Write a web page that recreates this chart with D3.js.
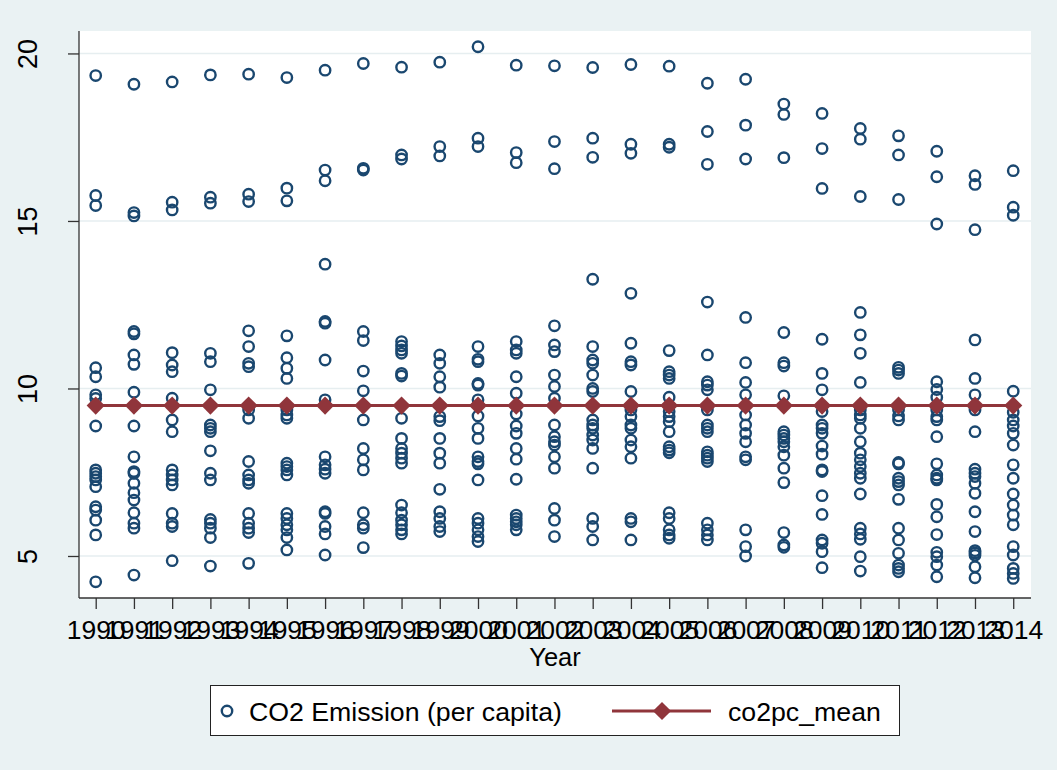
<!DOCTYPE html>
<html>
<head>
<meta charset="utf-8">
<script src="https://cdn.jsdelivr.net/npm/d3@7"></script>
<style>
  html, body { margin: 0; padding: 0; background: #EAF2F3; }
  svg { display: block; }
  text { font-family: "Liberation Sans", Arial, sans-serif; fill: #000; }
</style>
</head>
<body>
<svg id="chart" width="1057" height="770"></svg>
<script>
// CO2 emission per capita, one list per year
const co2_1990 = [19.34, 15.76, 15.46, 10.62, 10.35, 9.81, 9.70, 8.88, 7.57, 7.47, 7.37, 7.27, 7.07, 6.47, 6.37, 6.07, 5.63, 4.23];
const co2_1991 = [19.08, 15.25, 15.15, 11.70, 11.63, 11.00, 10.72, 9.89, 8.88, 7.96, 7.52, 7.47, 7.17, 6.89, 6.67, 6.29, 5.98, 5.83, 4.43];
const co2_1992 = [19.15, 15.56, 15.33, 11.07, 10.70, 10.50, 9.71, 9.06, 8.71, 7.57, 7.42, 7.27, 7.12, 6.27, 5.98, 5.88, 4.86];
const co2_1993 = [19.36, 15.71, 15.53, 11.05, 10.80, 9.96, 8.91, 8.81, 8.71, 8.14, 7.47, 7.27, 6.09, 5.98, 5.83, 5.55, 4.70];
const co2_1994 = [19.38, 15.80, 15.58, 11.72, 11.25, 10.75, 10.65, 9.36, 9.11, 7.82, 7.42, 7.27, 7.17, 6.27, 5.98, 5.83, 5.70, 4.78];
const co2_1995 = [19.28, 15.98, 15.60, 11.57, 10.92, 10.60, 10.30, 9.36, 9.21, 9.11, 7.77, 7.67, 7.57, 7.42, 6.27, 6.12, 5.93, 5.78, 5.55, 5.18];
const co2_1996 = [19.50, 16.52, 16.20, 13.71, 12.00, 11.95, 10.85, 9.66, 7.96, 7.72, 7.59, 7.47, 6.32, 6.27, 5.88, 5.66, 5.03];
const co2_1997 = [19.70, 16.57, 16.52, 11.70, 11.43, 10.52, 9.93, 9.06, 8.21, 7.87, 7.57, 6.29, 5.93, 5.83, 5.25];
const co2_1998 = [19.59, 16.97, 16.85, 11.40, 11.27, 11.15, 11.05, 10.45, 10.37, 9.11, 8.51, 8.21, 8.07, 7.92, 7.77, 6.52, 6.29, 6.07, 5.93, 5.78, 5.66];
const co2_1999 = [19.74, 17.22, 16.94, 11.00, 10.75, 10.35, 10.04, 9.16, 9.04, 8.51, 8.07, 7.77, 6.99, 6.32, 6.12, 5.88, 5.73];
const co2_2000 = [20.20, 17.47, 17.22, 11.25, 10.87, 10.80, 10.15, 10.10, 9.66, 9.18, 8.81, 8.51, 7.96, 7.82, 7.75, 7.27, 6.12, 5.98, 5.78, 5.58, 5.43];
const co2_2001 = [19.65, 17.04, 16.74, 11.40, 11.15, 11.05, 10.35, 9.86, 9.24, 8.88, 8.66, 8.21, 7.89, 7.29, 6.22, 6.12, 6.02, 5.93, 5.78];
const co2_2002 = [19.63, 17.37, 16.56, 11.87, 11.30, 11.10, 10.40, 10.06, 9.71, 8.91, 8.56, 8.41, 8.31, 7.96, 7.62, 6.42, 6.07, 5.58];
const co2_2003 = [19.58, 17.47, 16.90, 13.26, 11.25, 10.85, 10.75, 10.40, 10.00, 9.91, 9.06, 8.91, 8.81, 8.61, 8.46, 8.21, 7.62, 6.12, 5.88, 5.48];
const co2_2004 = [19.67, 17.29, 17.02, 12.84, 11.35, 10.80, 10.70, 9.91, 9.36, 9.16, 8.91, 8.81, 8.46, 8.26, 7.92, 6.12, 6.02, 5.48];
const co2_2005 = [19.62, 17.29, 17.20, 11.13, 10.50, 10.40, 10.30, 9.74, 9.31, 9.16, 9.01, 8.71, 8.26, 8.16, 8.08, 6.29, 6.12, 5.78, 5.63, 5.53];
const co2_2006 = [19.11, 17.67, 16.69, 12.58, 11.00, 10.20, 10.10, 9.96, 9.36, 8.91, 8.81, 8.71, 8.11, 8.01, 7.92, 7.82, 5.98, 5.78, 5.63, 5.48];
const co2_2007 = [19.23, 17.86, 16.85, 12.12, 10.77, 10.18, 9.81, 9.21, 8.91, 8.66, 8.41, 7.96, 7.87, 5.78, 5.28, 5.00];
const co2_2008 = [18.49, 18.18, 16.89, 11.67, 10.77, 10.67, 9.78, 8.71, 8.61, 8.51, 8.41, 8.26, 8.01, 7.62, 7.19, 5.70, 5.33, 5.26];
const co2_2009 = [18.21, 17.16, 15.97, 11.47, 10.45, 9.96, 9.31, 8.91, 8.81, 8.66, 8.28, 8.04, 7.57, 7.52, 6.80, 6.24, 5.48, 5.38, 5.13, 4.65];
const co2_2010 = [17.76, 17.44, 15.73, 12.27, 11.60, 11.05, 10.18, 9.36, 9.21, 9.11, 8.81, 8.41, 8.07, 7.87, 7.67, 7.47, 7.32, 6.85, 5.83, 5.66, 5.50, 4.98, 4.55];
const co2_2011 = [17.54, 16.97, 15.64, 10.63, 10.55, 10.45, 9.36, 9.18, 9.06, 7.79, 7.75, 7.32, 7.22, 7.12, 6.69, 5.83, 5.48, 5.08, 4.73, 4.63, 4.53];
const co2_2012 = [17.08, 16.32, 14.91, 10.20, 9.97, 9.74, 9.36, 9.16, 9.06, 8.56, 7.75, 7.42, 7.32, 7.27, 6.54, 6.17, 5.64, 5.11, 4.98, 4.73, 4.38];
const co2_2013 = [16.35, 16.09, 14.74, 11.45, 10.30, 9.81, 9.36, 8.71, 7.59, 7.47, 7.37, 7.17, 6.87, 6.32, 5.73, 5.16, 5.09, 5.02, 4.68, 4.35];
const co2_2014 = [16.50, 15.41, 15.17, 9.92, 9.29, 9.06, 8.88, 8.66, 8.31, 7.72, 7.32, 6.85, 6.52, 6.22, 5.93, 5.28, 5.03, 4.63, 4.48, 4.33];

const years = [1990, 1991, 1992, 1993, 1994, 1995, 1996, 1997, 1998, 1999, 2000, 2001,
               2002, 2003, 2004, 2005, 2006, 2007, 2008, 2009, 2010, 2011, 2012, 2013, 2014];
const co2ByYear = [co2_1990, co2_1991, co2_1992, co2_1993, co2_1994, co2_1995, co2_1996,
                   co2_1997, co2_1998, co2_1999, co2_2000, co2_2001, co2_2002, co2_2003,
                   co2_2004, co2_2005, co2_2006, co2_2007, co2_2008, co2_2009, co2_2010,
                   co2_2011, co2_2012, co2_2013, co2_2014];

// overall mean of co2 per capita, repeated for every year
const co2pcMean = [9.49, 9.49, 9.49, 9.49, 9.49, 9.49, 9.49, 9.49, 9.49, 9.49, 9.49, 9.49,
                   9.49, 9.49, 9.49, 9.49, 9.49, 9.49, 9.49, 9.49, 9.49, 9.49, 9.49, 9.49, 9.49];

const yTicks = [5, 10, 15, 20];
const legendLabels = ["CO2 Emission (per capita)", "co2pc_mean"];
const xTitle = "Year";

const navy = "#1A476F";
const maroon = "#90353B";
const gridColor = "#E6EEF0";
const fontStack = "'Liberation Sans', Arial, sans-serif";

const svg = d3.select("#chart");
const plot = { left: 79, right: 1031, top: 31, bottom: 598 };

const x = d3.scaleLinear().domain([1989.563, 2014.465]).range([plot.left, plot.right]);
const y = d3.scaleLinear().domain([3.746, 20.67]).range([plot.bottom, plot.top]);

// background panels
svg.append("rect").attr("width", 1057).attr("height", 770).attr("fill", "#EAF2F3");
svg.append("rect")
  .attr("x", plot.left).attr("y", plot.top)
  .attr("width", plot.right - plot.left).attr("height", plot.bottom - plot.top)
  .attr("fill", "#fff");

// horizontal grid
svg.append("g").selectAll("line").data(yTicks).join("line")
  .attr("x1", plot.left).attr("x2", plot.right)
  .attr("y1", d => y(d)).attr("y2", d => y(d))
  .attr("stroke", gridColor).attr("stroke-width", 1.6);

// y axis
const yAxis = svg.append("g")
  .attr("transform", `translate(${plot.left},0)`)
  .call(d3.axisLeft(y).tickValues(yTicks).tickSize(11).tickPadding(0).tickFormat(d3.format("d")));
yAxis.select(".domain").attr("d", `M0,${plot.top}V${plot.bottom}`).attr("stroke", "#333").attr("stroke-width", 1.3);
yAxis.selectAll(".tick line").attr("stroke", "#333").attr("stroke-width", 1.3);
yAxis.selectAll(".tick text")
  .attr("x", null).attr("dy", null)
  .attr("transform", `translate(${37 - plot.left},0) rotate(-90)`)
  .attr("text-anchor", "middle")
  .style("font-size", "27px")
  .style("font-family", fontStack)
  .attr("fill", "#000");

// x axis
const xAxis = svg.append("g")
  .attr("transform", `translate(0,${plot.bottom})`)
  .call(d3.axisBottom(x).tickValues(years).tickSize(11).tickPadding(0).tickFormat(d3.format("d")));
xAxis.select(".domain").attr("d", `M${plot.left},0H${plot.right}`).attr("stroke", "#333").attr("stroke-width", 1.3);
xAxis.selectAll(".tick line").attr("stroke", "#333").attr("stroke-width", 1.3);
xAxis.selectAll(".tick text")
  .attr("y", 41).attr("dy", null)
  .style("font-size", "26.5px")
  .style("font-family", fontStack)
  .attr("fill", "#000");

svg.append("text")
  .attr("x", (plot.left + plot.right) / 2).attr("y", 666)
  .attr("text-anchor", "middle")
  .style("font-size", "25.5px")
  .text(xTitle);

// scatter of per-capita emissions
const points = [];
years.forEach((yr, i) => co2ByYear[i].forEach(v => points.push({ year: yr, value: v })));

svg.append("g").selectAll("circle").data(points).join("circle")
  .attr("cx", d => x(d.year)).attr("cy", d => y(d.value))
  .attr("r", 5.2)
  .attr("fill", "none").attr("stroke", navy).attr("stroke-width", 2.4);

// mean line with diamond markers
const meanData = years.map((yr, i) => ({ year: yr, value: co2pcMean[i] }));
svg.append("path")
  .datum(meanData)
  .attr("d", d3.line().x(d => x(d.year)).y(d => y(d.value)))
  .attr("fill", "none").attr("stroke", maroon).attr("stroke-width", 3);

const diamond = d3.symbol().type(d3.symbolSquare).size(165);
svg.append("g").selectAll("path").data(meanData).join("path")
  .attr("transform", d => `translate(${x(d.year)},${y(d.value)}) rotate(45)`)
  .attr("d", diamond)
  .attr("fill", maroon);

// legend
const legend = svg.append("g");
legend.append("rect")
  .attr("x", 210.5).attr("y", 685.5).attr("width", 689).attr("height", 50)
  .attr("fill", "#fff").attr("stroke", "#222").attr("stroke-width", 1);
legend.append("circle")
  .attr("cx", 227).attr("cy", 711)
  .attr("r", 5.2).attr("fill", "none").attr("stroke", navy).attr("stroke-width", 2.4);
legend.append("text")
  .attr("x", 249).attr("y", 720.5)
  .style("font-size", "26.7px")
  .text(legendLabels[0]);
legend.append("line")
  .attr("x1", 612).attr("x2", 711).attr("y1", 711).attr("y2", 711)
  .attr("stroke", maroon).attr("stroke-width", 3);
legend.append("path")
  .attr("transform", "translate(662,711) rotate(45)")
  .attr("d", diamond)
  .attr("fill", maroon);
legend.append("text")
  .attr("x", 728).attr("y", 720.5)
  .style("font-size", "26.7px")
  .text(legendLabels[1]);
</script>
</body>
</html>
